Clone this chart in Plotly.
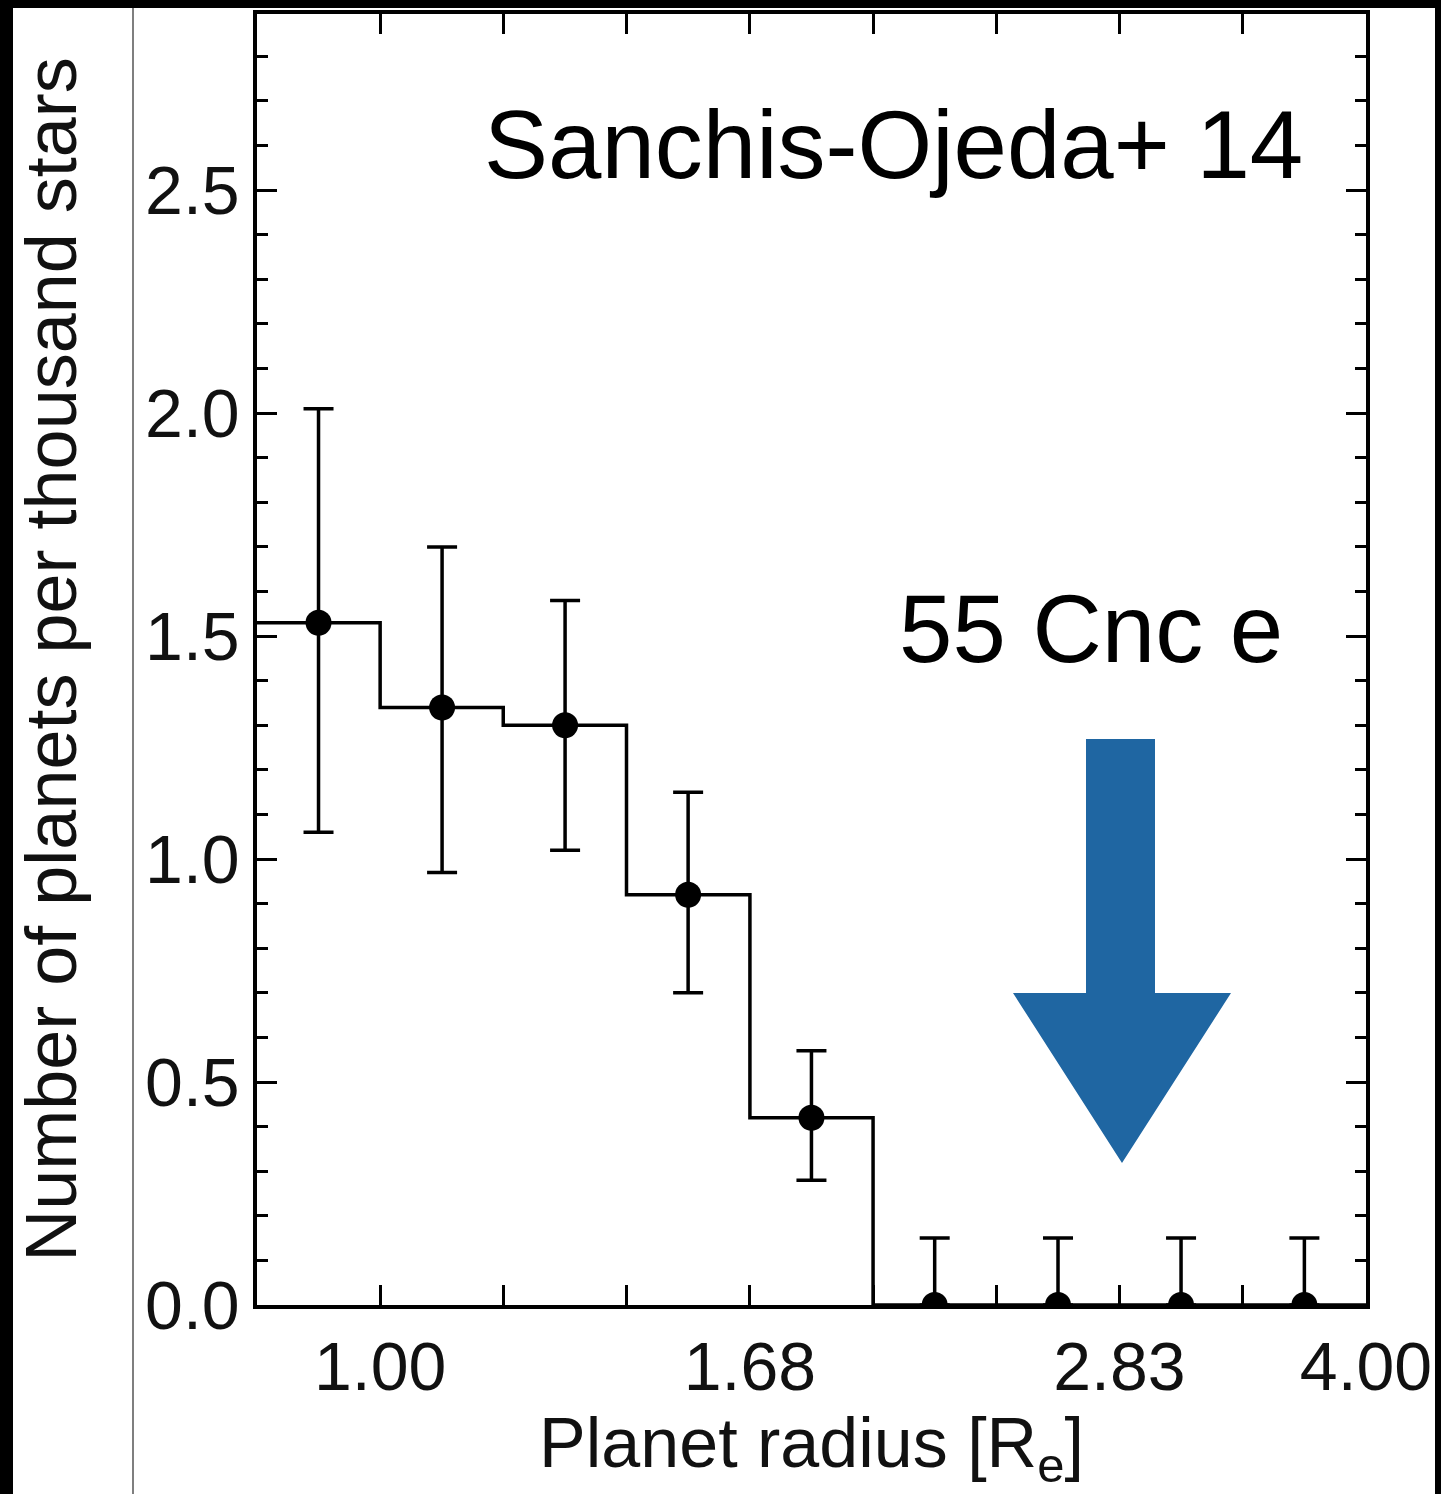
import plotly.graph_objects as go

# ---------------- data ----------------
bin_edges = [0.841, 1.0, 1.189, 1.414, 1.682, 2.0, 2.378, 2.828, 3.364, 4.0]
bin_centers = [0.917, 1.091, 1.297, 1.542, 1.834, 2.181, 2.594, 3.084, 3.668]
rates = [1.53, 1.34, 1.30, 0.92, 0.42, 0.0, 0.0, 0.0, 0.0]
err_plus = [0.48, 0.36, 0.28, 0.23, 0.15, 0.15, 0.15, 0.15, 0.15]
err_minus = [0.47, 0.37, 0.28, 0.22, 0.14, 0.0, 0.0, 0.0, 0.0]

xtick_vals = [1.0, 1.682, 2.828, 4.0]
xtick_text = ["1.00", "1.68", "2.83", "4.00"]
xminor_vals = [1.189, 1.414, 2.0, 2.378, 3.364]
ytick_vals = [0.0, 0.5, 1.0, 1.5, 2.0, 2.5]
ytick_text = ["0.0", "0.5", "1.0", "1.5", "2.0", "2.5"]

label_ref = "Sanchis-Ojeda+ 14"
label_planet = "55 Cnc e"
x_title = "Planet radius [R<sub>e</sub>]"
y_title = "Number of planets per thousand stars"

# ---------------- layout geometry (pixels) ----------------
W, H = 1441, 1494
L, R, T, B = 257, 1366, 14, 1305


def px(x):
    return (x - L) / (R - L)


def py(y):
    return (B - y) / (B - T)


FONT = "Liberation Sans, Arial, Helvetica, sans-serif"

fig = go.Figure()

# step histogram
fig.add_trace(go.Scatter(
    x=bin_edges,
    y=rates + [rates[-1]],
    mode="lines",
    line=dict(shape="hv", color="black", width=3.5),
    hoverinfo="skip",
    showlegend=False,
))

# points with error bars
fig.add_trace(go.Scatter(
    x=bin_centers,
    y=rates,
    mode="markers",
    marker=dict(color="black", size=26),
    error_y=dict(type="data", array=err_plus, arrayminus=err_minus,
                 color="black", thickness=3.5, width=15),
    showlegend=False,
))

axis_common = dict(
    showline=True, linecolor="black", linewidth=3.5, mirror="ticks",
    ticks="inside", tickcolor="black", tickwidth=3, ticklen=20,
    showgrid=False, zeroline=False,
    tickfont=dict(family=FONT, size=68, color="#111"),
)

fig.update_xaxes(
    type="log",
    range=[-0.0752, 0.60206],
    tickmode="array", tickvals=xtick_vals, ticktext=xtick_text,
    minor=dict(tickmode="array", tickvals=xminor_vals, ticks="inside",
               ticklen=20, tickwidth=3, tickcolor="black", showgrid=False),
    title=dict(text=x_title, font=dict(family=FONT, size=70, color="#111"), standoff=12),
    **axis_common,
)
fig.update_yaxes(
    range=[0, 2.895],
    tickmode="array", tickvals=ytick_vals, ticktext=ytick_text,
    minor=dict(dtick=0.1, tick0=0, ticks="inside", ticklen=11, tickwidth=3,
               tickcolor="black", showgrid=False),
    title=dict(text=y_title, font=dict(family=FONT, size=72, color="#111"), standoff=46),
    **axis_common,
)

shapes = []
# frame bands of the screenshot
shapes.append(dict(type="rect", xref="paper", yref="paper", x0=px(0), x1=px(W), y0=py(0), y1=py(8),
                   fillcolor="black", line=dict(width=0), layer="above"))
shapes.append(dict(type="rect", xref="paper", yref="paper", x0=px(0), x1=px(13), y0=py(0), y1=py(H),
                   fillcolor="black", line=dict(width=0), layer="above"))
shapes.append(dict(type="rect", xref="paper", yref="paper", x0=px(1435), x1=px(W), y0=py(0), y1=py(H),
                   fillcolor="black", line=dict(width=0), layer="above"))
shapes.append(dict(type="line", xref="paper", yref="paper", x0=px(133), x1=px(133), y0=py(8), y1=py(H),
                   line=dict(color="#555", width=1.5), layer="above"))

# blue arrow pointing down
pts = [(1086, 739), (1155, 739), (1155, 993), (1231, 993), (1122, 1163), (1013, 993), (1086, 993)]
path = "M " + " L ".join(f"{px(x):.5f},{py(y):.5f}" for x, y in pts) + " Z"
shapes.append(dict(type="path", xref="paper", yref="paper", path=path,
                   fillcolor="#1f66a2", line=dict(width=0), layer="above"))

annotations = [
    dict(text=label_ref, xref="paper", yref="paper", x=px(1305), y=py(145),
         xanchor="right", yanchor="middle", showarrow=False,
         font=dict(family=FONT, size=96, color="black")),
    dict(text=label_planet, xref="paper", yref="paper", x=px(1285), y=py(628),
         xanchor="right", yanchor="middle", showarrow=False,
         font=dict(family=FONT, size=96, color="black")),
]

fig.update_layout(
    width=W, height=H,
    margin=dict(l=L, r=W - R, t=T, b=H - B, autoexpand=False),
    paper_bgcolor="white", plot_bgcolor="white",
    shapes=shapes, annotations=annotations,
    showlegend=False,
)

fig.write_html("out.html")
